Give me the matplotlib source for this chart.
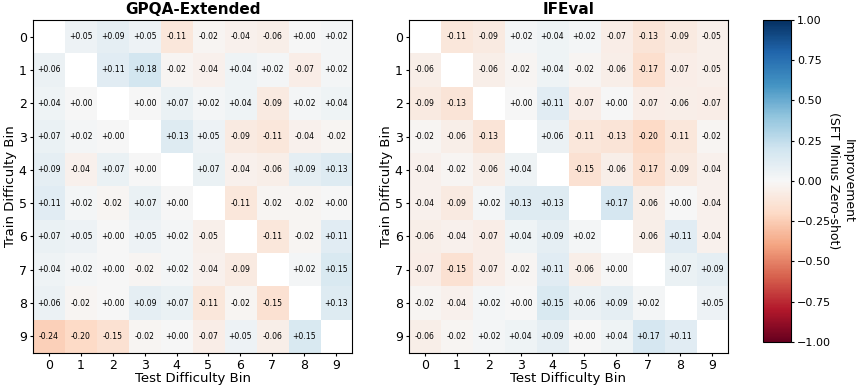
import numpy as np
import matplotlib.pyplot as plt

bins = list(range(10))
nan = np.nan

gpqa = np.array([
    [nan, 0.05, 0.09, 0.05, -0.11, -0.02, -0.04, -0.06, 0.00, 0.02],
    [0.06, nan, 0.11, 0.18, -0.02, -0.04, 0.04, 0.02, -0.07, 0.02],
    [0.04, 0.00, nan, 0.00, 0.07, 0.02, 0.04, -0.09, 0.02, 0.04],
    [0.07, 0.02, 0.00, nan, 0.13, 0.05, -0.09, -0.11, -0.04, -0.02],
    [0.09, -0.04, 0.07, 0.00, nan, 0.07, -0.04, -0.06, 0.09, 0.13],
    [0.11, 0.02, -0.02, 0.07, 0.00, nan, -0.11, -0.02, -0.02, 0.00],
    [0.07, 0.05, 0.00, 0.05, 0.02, -0.05, nan, -0.11, -0.02, 0.11],
    [0.04, 0.02, 0.00, -0.02, 0.02, -0.04, -0.09, nan, 0.02, 0.15],
    [0.06, -0.02, 0.00, 0.09, 0.07, -0.11, -0.02, -0.15, nan, 0.13],
    [-0.24, -0.20, -0.15, -0.02, 0.00, -0.07, 0.05, -0.06, 0.15, nan],
])

ifeval = np.array([
    [nan, -0.11, -0.09, 0.02, 0.04, 0.02, -0.07, -0.13, -0.09, -0.05],
    [-0.06, nan, -0.06, -0.02, 0.04, -0.02, -0.06, -0.17, -0.07, -0.05],
    [-0.09, -0.13, nan, 0.00, 0.11, -0.07, 0.00, -0.07, -0.06, -0.07],
    [-0.02, -0.06, -0.13, nan, 0.06, -0.11, -0.13, -0.20, -0.11, -0.02],
    [-0.04, -0.02, -0.06, 0.04, nan, -0.15, -0.06, -0.17, -0.09, -0.04],
    [-0.04, -0.09, 0.02, 0.13, 0.13, nan, 0.17, -0.06, 0.00, -0.04],
    [-0.06, -0.04, -0.07, 0.04, 0.09, 0.02, nan, -0.06, 0.11, -0.04],
    [-0.07, -0.15, -0.07, -0.02, 0.11, -0.06, 0.00, nan, 0.07, 0.09],
    [-0.02, -0.04, 0.02, 0.00, 0.15, 0.06, 0.09, 0.02, nan, 0.05],
    [-0.06, -0.02, 0.02, 0.04, 0.09, 0.00, 0.04, 0.17, 0.11, nan],
])

titles = ["GPQA-Extended", "IFEval"]

fig = plt.figure(figsize=(8.59, 3.89), dpi=100)
ax1 = fig.add_axes([0.0384, 0.0925, 0.3714, 0.856])
ax2 = fig.add_axes([0.476, 0.0925, 0.3714, 0.856])
cax = fig.add_axes([0.888, 0.121, 0.0326, 0.828])

for ax, data, title in zip([ax1, ax2], [gpqa, ifeval], titles):
    im = ax.imshow(data, cmap='RdBu', vmin=-1, vmax=1, aspect='auto')
    for i in range(10):
        for j in range(10):
            v = data[i, j]
            if np.isnan(v):
                continue
            ax.text(j, i, f"{v:+.2f}", ha='center', va='center', fontsize=5.6)
    ax.set_xticks(bins)
    ax.set_yticks(bins)
    ax.set_xticklabels(bins, fontsize=9)
    ax.set_yticklabels(bins, fontsize=9)
    ax.tick_params(length=2.5, pad=2)
    ax.set_title(title, fontsize=11, fontweight='bold', pad=4)
    ax.set_xlabel("Test Difficulty Bin", fontsize=9.5, labelpad=0)
    ax.set_ylabel("Train Difficulty Bin", fontsize=9.5, labelpad=1)

cb = fig.colorbar(im, cax=cax)
cb.set_ticks([-1, -0.75, -0.5, -0.25, 0, 0.25, 0.5, 0.75, 1])
cb.ax.tick_params(labelsize=8, length=2.5, pad=2)
cb.ax.yaxis.set_major_formatter(plt.FuncFormatter(lambda x, _: f"{x:.2f}".replace("-", "\u2212")))
cb.set_label("Improvement\n(SFT Minus Zero-shot)", rotation=270, labelpad=17, fontsize=9)

fig.savefig("out.png", dpi=100)
